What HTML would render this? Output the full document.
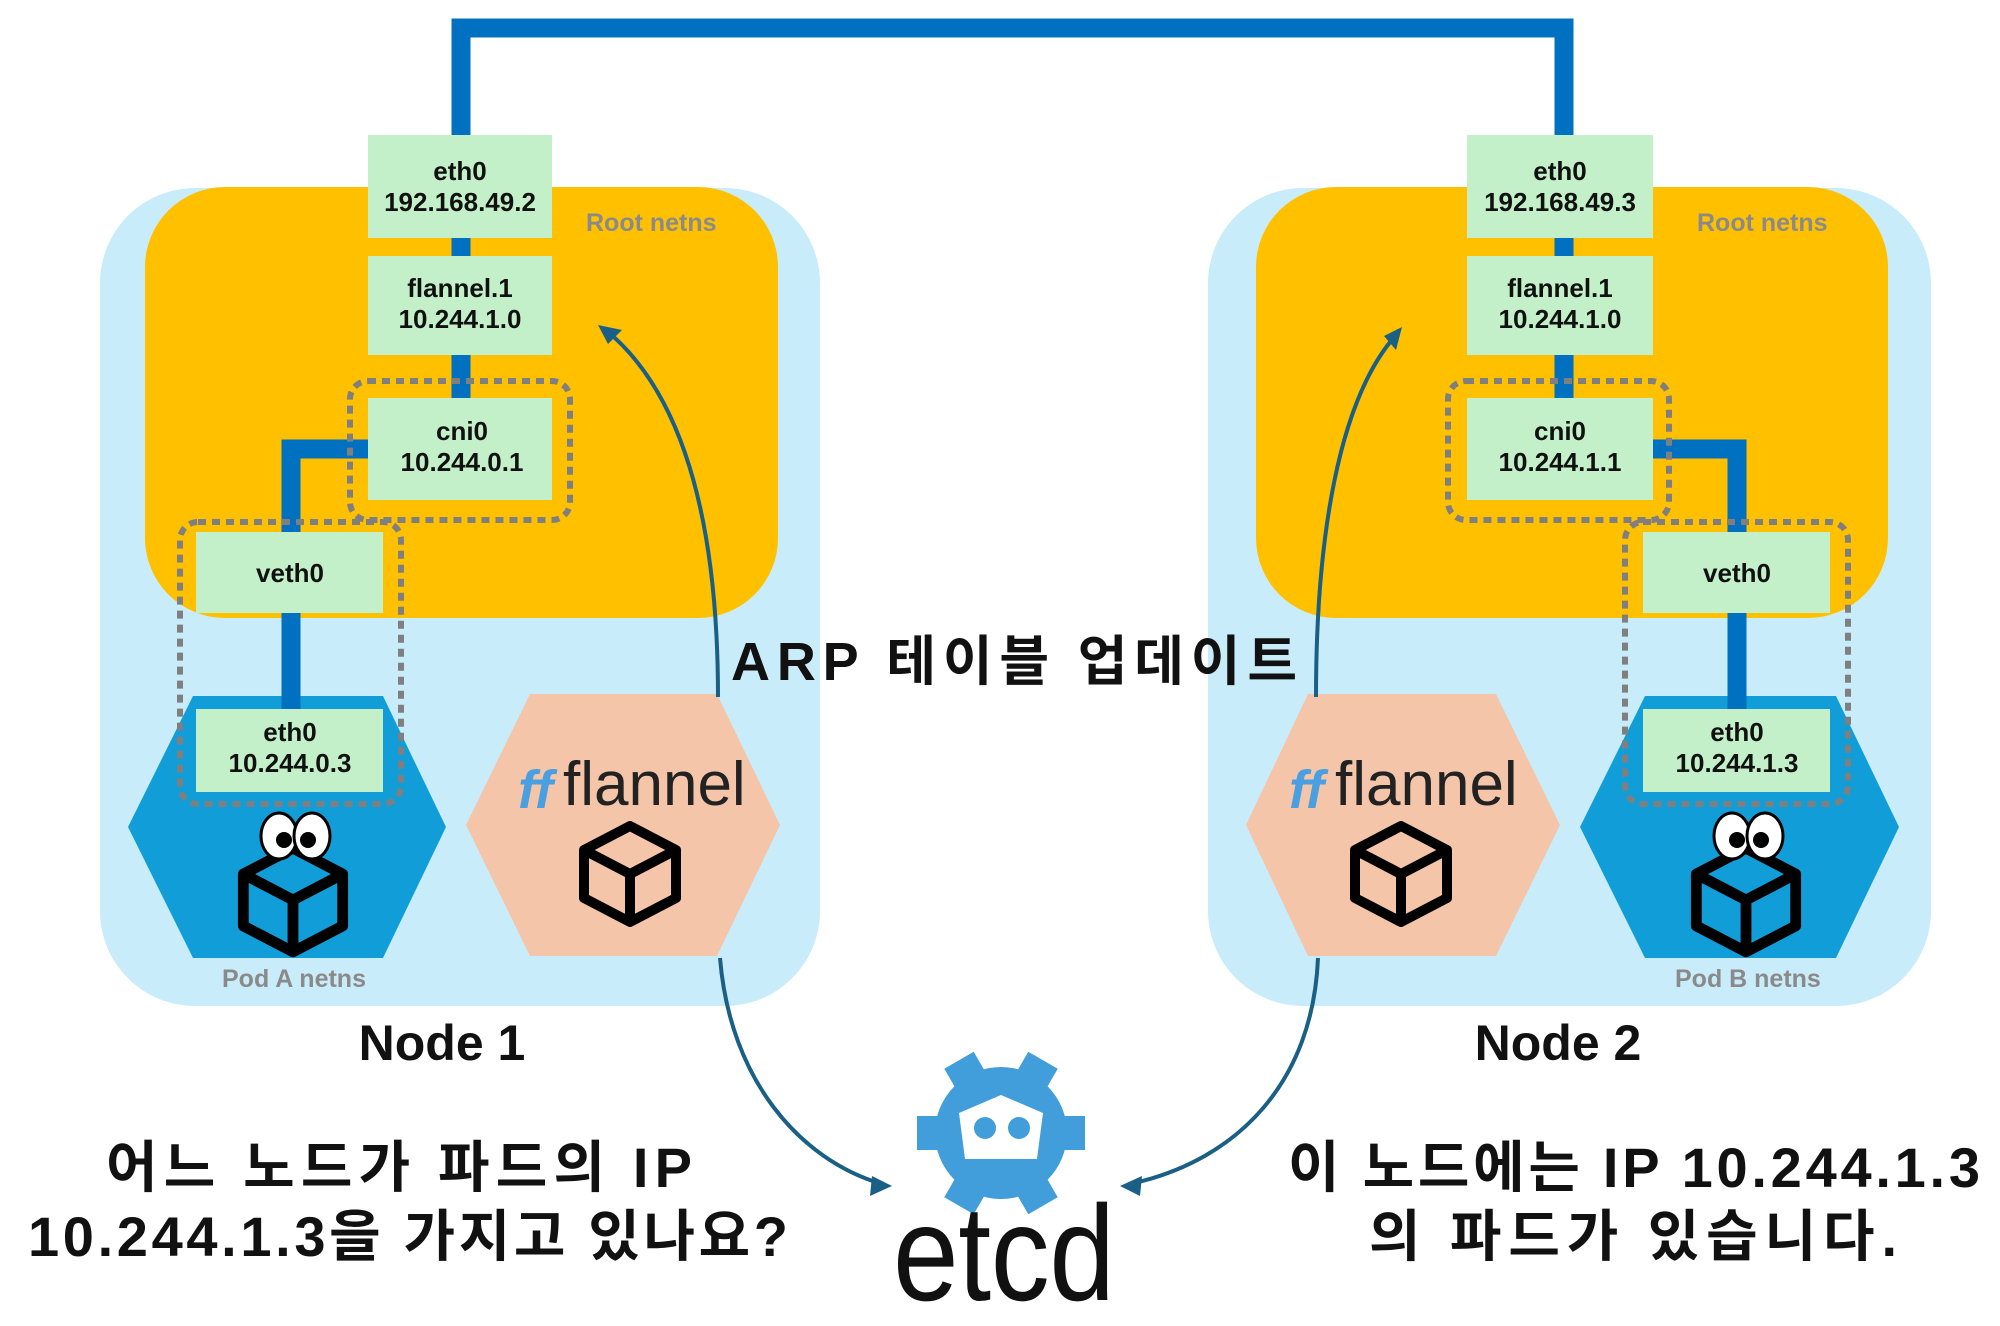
<!DOCTYPE html>
<html><head><meta charset="utf-8"><style>
html,body{margin:0;padding:0;background:#fff;}
svg{display:block;}
text{font-family:"Liberation Sans","Noto Sans CJK KR",sans-serif;}
</style></head><body>
<svg width="2000" height="1326" viewBox="0 0 2000 1326" xmlns="http://www.w3.org/2000/svg">
<defs>
<g id="cube">
<path d="M0,-48 L46,-24 L46,24 L0,48 L-46,24 L-46,-24 Z" fill="none" stroke="#000" stroke-width="10" stroke-linejoin="round"/>
<path d="M-46,-24 L0,0 L46,-24 M0,0 L0,48" fill="none" stroke="#000" stroke-width="10" stroke-linejoin="round"/>
</g>
</defs>

<!-- top link -->
<polyline points="461,137 461,28 1564,28 1564,137" fill="none" stroke="#0070c0" stroke-width="19"/>

<!-- ===== NODE 1 ===== -->
<rect x="100" y="188" width="720" height="818" rx="95" fill="#c9ecfa"/>
<rect x="145" y="187" width="633" height="431" rx="80" fill="#ffc000"/>
<line x1="461" y1="230" x2="461" y2="400" stroke="#0070c0" stroke-width="19"/>
<polyline points="370,449 291,449 291,535" fill="none" stroke="#0070c0" stroke-width="19"/>
<polygon points="193,696 383,696 446,827 383,958 193,958 128,827" fill="#119ed8"/>
<line x1="291" y1="610" x2="291" y2="712" stroke="#0070c0" stroke-width="19"/>
<polygon points="530,694 717,694 780,825 717,956 530,956 466,825" fill="#f4c5a9"/>
<rect x="368" y="135" width="184" height="103" fill="#c3f0c8"/>
<rect x="368" y="256" width="184" height="99" fill="#c3f0c8"/>
<rect x="368" y="398" width="184" height="102" fill="#c3f0c8"/>
<rect x="196" y="532" width="187" height="81" fill="#c3f0c8"/>
<rect x="196" y="709" width="187" height="83" fill="#c3f0c8"/>
<g font-weight="bold" font-size="26" text-anchor="middle" fill="#111">
<text x="460" y="180">eth0</text><text x="460" y="211">192.168.49.2</text>
<text x="460" y="297">flannel.1</text><text x="460" y="328">10.244.1.0</text>
<text x="462" y="440">cni0</text><text x="462" y="471">10.244.0.1</text>
<text x="290" y="582">veth0</text>
<text x="290" y="741">eth0</text><text x="290" y="772">10.244.0.3</text>
</g>
<rect x="350" y="381" width="220" height="139" rx="18" fill="none" stroke="#7f7f7f" stroke-width="6" stroke-dasharray="8 6"/>
<rect x="180" y="522" width="221" height="282" rx="18" fill="none" stroke="#7f7f7f" stroke-width="6" stroke-dasharray="8 6"/>
<text x="586" y="231" font-size="25" font-weight="bold" fill="#8a8a8a">Root netns</text>
<text x="222" y="987" font-size="25" font-weight="bold" fill="#8a8a8a">Pod A netns</text>
<g transform="translate(293,900) scale(1.08)"><path d="M0,-48 L46,-24 L46,24 L0,48 L-46,24 L-46,-24 Z" fill="#119ed8"/><use href="#cube"/></g>
<ellipse cx="279" cy="836" rx="18" ry="23" fill="#fff" stroke="#000" stroke-width="3"/>
<ellipse cx="312" cy="836" rx="18" ry="23" fill="#fff" stroke="#000" stroke-width="3"/>
<circle cx="284" cy="840" r="8" fill="#000"/><circle cx="308" cy="840" r="8" fill="#000"/>
<text x="518" y="808" font-size="54" font-weight="bold" fill="#4a9fe0" font-style="italic">ff</text>
<text x="563" y="805" font-size="62" fill="#222">flannel</text>
<g transform="translate(630,874)"><use href="#cube"/></g>
<text x="442" y="1060" font-size="50" font-weight="bold" text-anchor="middle" fill="#111">Node 1</text>

<!-- ===== NODE 2 ===== -->
<g transform="translate(-7,0)">
<rect x="1215" y="188" width="723" height="818" rx="95" fill="#c9ecfa"/>
<rect x="1263" y="187" width="632" height="431" rx="80" fill="#ffc000"/>
<line x1="1571" y1="230" x2="1571" y2="400" stroke="#0070c0" stroke-width="19"/>
<polyline points="1660,449 1744,449 1744,535" fill="none" stroke="#0070c0" stroke-width="19"/>
<polygon points="1652,696 1843,696 1906,827 1843,958 1652,958 1587,827" fill="#119ed8"/>
<line x1="1744" y1="610" x2="1744" y2="712" stroke="#0070c0" stroke-width="19"/>
<polygon points="1315,694 1503,694 1567,825 1503,956 1315,956 1253,825" fill="#f4c5a9"/>
<rect x="1474" y="135" width="186" height="103" fill="#c3f0c8"/>
<rect x="1474" y="256" width="186" height="99" fill="#c3f0c8"/>
<rect x="1474" y="398" width="186" height="102" fill="#c3f0c8"/>
<rect x="1650" y="532" width="187" height="81" fill="#c3f0c8"/>
<rect x="1650" y="709" width="187" height="83" fill="#c3f0c8"/>
<g font-weight="bold" font-size="26" text-anchor="middle" fill="#111">
<text x="1567" y="180">eth0</text><text x="1567" y="211">192.168.49.3</text>
<text x="1567" y="297">flannel.1</text><text x="1567" y="328">10.244.1.0</text>
<text x="1567" y="440">cni0</text><text x="1567" y="471">10.244.1.1</text>
<text x="1744" y="582">veth0</text>
<text x="1744" y="741">eth0</text><text x="1744" y="772">10.244.1.3</text>
</g>
<rect x="1455" y="381" width="221" height="139" rx="18" fill="none" stroke="#7f7f7f" stroke-width="6" stroke-dasharray="8 6"/>
<rect x="1632" y="522" width="223" height="282" rx="18" fill="none" stroke="#7f7f7f" stroke-width="6" stroke-dasharray="8 6"/>
<text x="1704" y="231" font-size="25" font-weight="bold" fill="#8a8a8a">Root netns</text>
<text x="1682" y="987" font-size="25" font-weight="bold" fill="#8a8a8a">Pod B netns</text>
<g transform="translate(1753,900) scale(1.08)"><path d="M0,-48 L46,-24 L46,24 L0,48 L-46,24 L-46,-24 Z" fill="#119ed8"/><use href="#cube"/></g>
<ellipse cx="1739" cy="836" rx="18" ry="23" fill="#fff" stroke="#000" stroke-width="3"/>
<ellipse cx="1772" cy="836" rx="18" ry="23" fill="#fff" stroke="#000" stroke-width="3"/>
<circle cx="1744" cy="840" r="8" fill="#000"/><circle cx="1768" cy="840" r="8" fill="#000"/>
<text x="1296" y="808" font-size="54" font-weight="bold" fill="#4a9fe0" font-style="italic">ff</text>
<text x="1342" y="805" font-size="62" fill="#222">flannel</text>
<g transform="translate(1408,874)"><use href="#cube"/></g>
<text x="1565" y="1060" font-size="50" font-weight="bold" text-anchor="middle" fill="#111">Node 2</text>
</g>

<!-- arrows -->
<g fill="none" stroke="#1a5f85" stroke-width="4">
<path d="M718,697 C718,540 690,400 607,331"/>
<path d="M1316,697 C1316,540 1338,400 1396,335"/>
<path d="M720,958 C730,1080 800,1160 882,1184"/>
<path d="M1318,958 C1313,1080 1240,1160 1130,1184"/>
</g>
<g fill="#1a5f85">
<polygon points="598,325 622,330 608,344"/>
<polygon points="1402,327 1396,350 1384,336"/>
<polygon points="892,1186 870,1196 872,1176"/>
<polygon points="1120,1186 1142,1176 1140,1196"/>
</g>

<text x="731" y="680" font-size="54" font-weight="bold" fill="#111" textLength="566">ARP 테이블 업데이트</text>

<!-- etcd -->
<g transform="translate(1001,1133)" fill="#419eda">
<circle r="66"/>
<rect x="-17" y="-84" width="34" height="30" transform="rotate(-30)"/>
<rect x="-17" y="-84" width="34" height="30" transform="rotate(30)"/>
<rect x="-17" y="-84" width="34" height="30" transform="rotate(90)"/>
<rect x="-17" y="-84" width="34" height="30" transform="rotate(150)"/>
<rect x="-17" y="-84" width="34" height="30" transform="rotate(210)"/>
<rect x="-17" y="-84" width="34" height="30" transform="rotate(270)"/>
<path d="M0,-38 L42,-20 L36,26 L-36,26 L-42,-20 Z" fill="#fff"/>
<circle cx="-16" cy="-5" r="11"/><circle cx="18" cy="-5" r="11"/>
</g>
<g transform="translate(893,1300) scale(1,1.15)">
<text x="0" y="0" font-size="118" fill="#111" textLength="222">etcd</text>
</g>

<g font-size="56" font-weight="bold" fill="#111">
<text x="106" y="1187" textLength="586">어느 노드가 파드의 IP</text>
<text x="28" y="1256" textLength="760">10.244.1.3을 가지고 있나요?</text>
<text x="1288" y="1187" textLength="692">이 노드에는 IP 10.244.1.3</text>
<text x="1369" y="1256" textLength="528">의 파드가 있습니다.</text>
</g>
</svg>
</body></html>
